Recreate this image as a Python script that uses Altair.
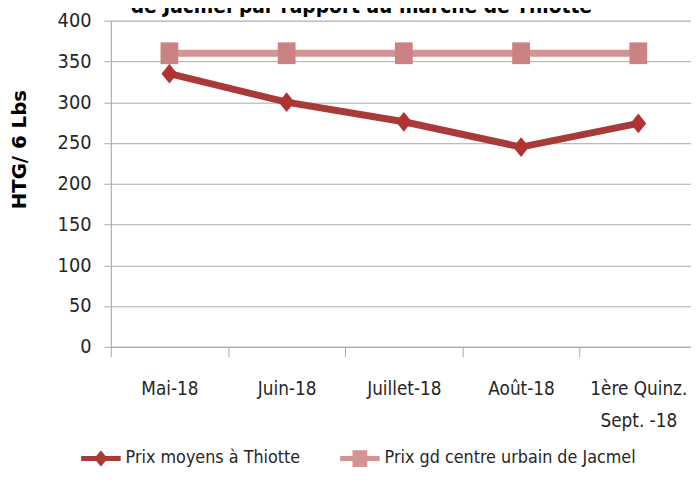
import altair as alt
import pandas as pd

# ---- data ----
months = ["Mai-18", "Juin-18", "Juillet-18", "Août-18", "1ère Quinz. Sept. -18"]
series_names = ["Prix moyens à Thiotte", "Prix gd centre urbain de Jacmel"]
thiotte = [335, 300, 276, 245, 274]
jacmel = [360, 360, 360, 360, 360]
y_ticks = [0, 50, 100, 150, 200, 250, 300, 350, 400]
title_text = "de Jacmel par rapport au marché de Thiotte"
y_title = "HTG/ 6 Lbs"

rows = []
for m, v in zip(months, thiotte):
    rows.append({"mois": m, "serie": series_names[0], "prix": v})
for m, v in zip(months, jacmel):
    rows.append({"mois": m, "serie": series_names[1], "prix": v})
df = pd.DataFrame(rows)

FONT = "Liberation Sans Narrow, DejaVu Sans Condensed, Roboto, sans-serif"
TXT = "#262626"
DARK = "#A83B3A"
DARK_MK = "#B03233"
PINK = "#D59494"
PINK_MK = "#CC8282"
GRID = "#A9A9A9"

diamond_path = "M-0.8,0L0,-1L0.8,0L0,1Z"
square_path = "M-0.9,-1.1L0.9,-1.1L0.9,1.1L-0.9,1.1Z"
leg_diamond = "M-2,-0.25L2,-0.25L2,0.25L-2,0.25Z M-0.7,0L0,-0.8L0.7,0L0,0.8Z"
leg_square = "M-2,-0.25L2,-0.25L2,0.25L-2,0.25Z M-0.75,-0.85L0.75,-0.85L0.75,0.85L-0.75,0.85Z"

label_expr = ("datum.value == '1ère Quinz. Sept. -18' ? "
              "['1ère Quinz.', 'Sept. -18'] : datum.value")

x_enc = alt.X(
    "mois:N",
    sort=months,
    scale=alt.Scale(domain=months, range=[0, 593], paddingInner=0, paddingOuter=0),
    axis=alt.Axis(
        title=None, labelAngle=0, labelExpr=label_expr, tickBand="extent",
        tickSize=10, tickColor=GRID, domainColor=GRID, grid=False,
        labelFont=FONT, labelFontSize=19, labelColor=TXT, labelPadding=23,
        labelLineHeight=33, labelAlign="center",
    ),
)
y_enc = alt.Y(
    "prix:Q",
    scale=alt.Scale(domain=[0, 400], nice=False),
    axis=alt.Axis(
        values=y_ticks, title=y_title, titleFont="DejaVu Sans", titleFontSize=20,
        titleFontWeight="bold", titleColor="#000", titleX=-92, titleY=130,
        titleAngle=270, titleAlign="center", titleBaseline="middle",
        tickSize=7, tickColor=GRID, domainColor=GRID, grid=True, gridColor=GRID,
        labelFont=FONT, labelFontSize=20, labelColor=TXT, labelPadding=13,
    ),
)

base = alt.Chart(df)

line_t = base.transform_filter(alt.datum.serie == series_names[0]).mark_line(
    strokeWidth=7, color=DARK
).encode(x=x_enc, y=y_enc)

line_j = base.transform_filter(alt.datum.serie == series_names[1]).mark_line(
    strokeWidth=7, color=PINK
).encode(x=x_enc, y=y_enc)

pts_t = base.transform_filter(alt.datum.serie == series_names[0]).mark_point(
    filled=True, shape=diamond_path, size=400, color=DARK_MK, opacity=1, strokeWidth=0
).encode(x=x_enc, y=y_enc)

pts_j = base.transform_filter(alt.datum.serie == series_names[1]).mark_point(
    filled=True, shape=square_path, size=400, color=PINK_MK, opacity=1, strokeWidth=0
).encode(x=x_enc, y=y_enc)

leg = alt.Legend(
    title=None, orient="none", legendX=-20, legendY=433, direction="horizontal",
    symbolOpacity=1, symbolSize=400, symbolStrokeWidth=0, labelFont=FONT,
    labelFontSize=18, labelColor=TXT, labelOffset=15, columnPadding=40,
    padding=0, labelLimit=500,
)
legend_layer = base.mark_point(filled=True, opacity=0, size=400, strokeWidth=0).encode(
    x=x_enc, y=y_enc,
    shape=alt.Shape("serie:N", scale=alt.Scale(domain=series_names, range=[leg_diamond, leg_square]), legend=leg),
    fill=alt.Fill("serie:N", scale=alt.Scale(domain=series_names, range=[DARK, PINK]), legend=leg),
)

chart = alt.layer(line_j, line_t, pts_t, pts_j, legend_layer).properties(
    width=587,
    height=330,
    title=alt.TitleParams(
        text=title_text, font=FONT, fontSize=21, fontWeight="bold", color="#000",
        anchor="middle", offset=-23, dx=-40, baseline="alphabetic",
    ),
    autosize=alt.AutoSizeParams(type="none"),
    padding={"left": 104, "top": 10, "right": 0, "bottom": 139},
).configure_view(stroke=None).configure(background="white")

chart.save("out.html", embed_options={"renderer": "svg", "actions": False})
